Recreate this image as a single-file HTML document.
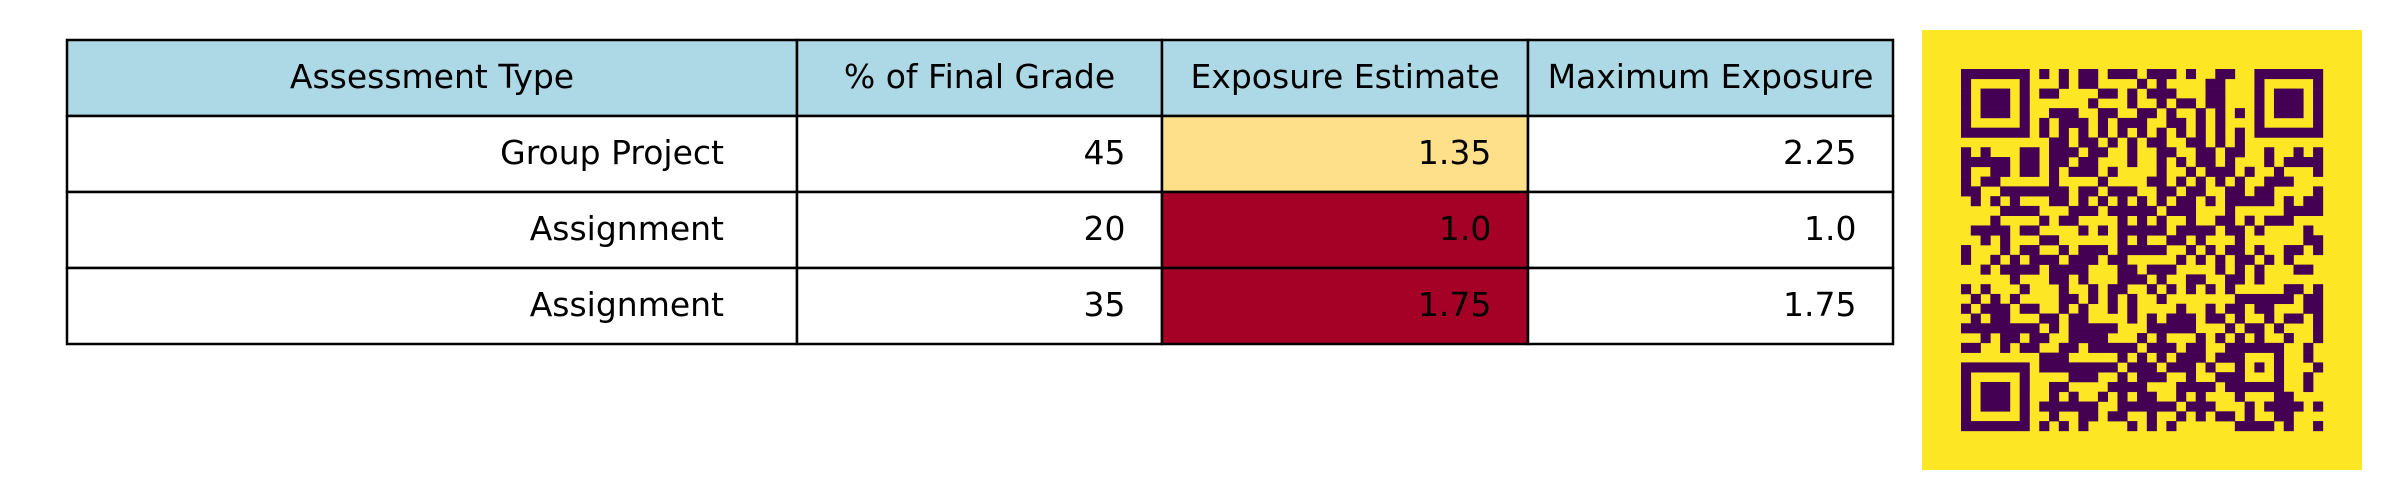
<!DOCTYPE html>
<html><head><meta charset="utf-8"><style>
html,body{margin:0;padding:0;background:#fff;width:2400px;height:500px;overflow:hidden}
svg text{font-family:"DejaVu Sans","Liberation Sans",sans-serif;font-size:33px;fill:#000}
</style></head><body>
<svg id="chart" width="2400" height="500" xmlns="http://www.w3.org/2000/svg"></svg>
<script>
const headers=["Assessment Type","% of Final Grade","Exposure Estimate","Maximum Exposure"];
const assessmentTypes=["Group Project","Assignment","Assignment"];
const finalGrade=["45","20","35"];
const exposureEstimate=["1.35","1.0","1.75"];
const maxExposure=["2.25","1.0","1.75"];
const exposureColors=["#fee08b","#a50026","#a50026"];
const qrRows=[
[[0,6],[8,8],[10,10],[12,13],[15,17],[19,21],[23,23],[26,27],[30,36]],
[[0,0],[6,6],[10,10],[12,13],[18,18],[20,20],[25,26],[30,30],[36,36]],
[[0,0],[2,4],[6,6],[8,9],[14,15],[17,17],[19,21],[25,26],[30,30],[32,34],[36,36]],
[[0,0],[2,4],[6,6],[13,13],[17,17],[20,20],[22,23],[25,26],[30,30],[32,34],[36,36]],
[[0,0],[2,4],[6,6],[9,11],[14,15],[18,19],[21,21],[24,24],[26,26],[28,28],[30,30],[32,34],[36,36]],
[[0,0],[6,6],[8,8],[10,12],[14,14],[16,18],[21,22],[24,24],[26,26],[30,30],[36,36]],
[[0,6],[8,8],[10,10],[12,12],[14,14],[16,16],[18,18],[20,20],[22,22],[24,24],[26,26],[28,28],[30,36]],
[[9,10],[12,13],[15,15],[17,17],[19,20],[23,24],[26,26],[28,28]],
[[0,0],[2,2],[6,7],[9,11],[13,14],[17,17],[20,21],[24,25],[27,28],[31,31],[34,34],[36,36]],
[[0,4],[6,7],[9,10],[12,13],[17,17],[20,20],[22,22],[24,25],[27,27],[31,31],[33,36]],
[[0,0],[3,4],[6,7],[9,9],[11,13],[15,15],[20,20],[23,23],[25,27],[29,29],[32,32],[36,36]],
[[0,0],[2,3],[9,9],[14,14],[19,20],[22,22],[24,24],[26,26],[28,28],[31,33]],
[[0,1],[4,10],[12,13],[15,17],[20,21],[23,24],[27,28],[30,31],[36,36]],
[[1,1],[3,3],[5,5],[9,10],[12,12],[14,14],[16,16],[18,18],[20,20],[22,23],[25,25],[27,31],[33,33],[35,36]],
[[4,7],[11,13],[15,19],[21,23],[27,27],[33,36]],
[[3,3],[8,8],[10,11],[16,16],[18,18],[20,20],[23,23],[26,27],[29,29],[31,33]],
[[1,4],[6,7],[12,12],[14,14],[16,20],[22,25],[27,28],[30,30],[35,35]],
[[2,2],[4,4],[8,9],[16,16],[18,18],[21,22],[24,24],[28,28],[35,36]],
[[0,0],[4,4],[6,7],[10,10],[12,14],[16,20],[23,23],[25,25],[27,28],[30,30],[33,34],[36,36]],
[[0,0],[3,3],[5,5],[7,9],[11,13],[15,16],[22,22],[24,24],[26,26],[28,29],[31,31],[33,33]],
[[2,2],[4,7],[9,12],[16,17],[19,21],[26,26],[28,28],[30,30],[34,35]],
[[5,5],[9,10],[12,12],[16,18],[20,20],[23,24],[27,28],[30,30]],
[[0,0],[2,2],[6,6],[10,10],[13,13],[15,16],[19,19],[21,21],[23,23],[25,25],[27,27],[33,34],[36,36]],
[[1,1],[3,3],[5,5],[10,11],[13,13],[15,15],[17,17],[20,20],[28,33],[35,36]],
[[0,0],[2,4],[6,7],[10,10],[12,12],[15,15],[17,17],[22,22],[25,25],[27,28],[30,31],[35,36]],
[[1,1],[3,4],[8,9],[11,12],[17,17],[19,19],[21,23],[25,26],[28,28],[31,31],[33,34],[36,36]],
[[0,7],[9,9],[11,15],[19,23],[27,27],[29,30],[32,32],[36,36]],
[[2,2],[4,5],[7,8],[11,14],[18,18],[20,20],[24,24],[26,26],[28,28],[30,30],[33,33],[36,36]],
[[0,1],[4,4],[6,7],[10,11],[13,17],[19,21],[23,24],[27,32],[35,35]],
[[8,10],[16,16],[18,18],[20,20],[22,24],[26,28],[32,32],[35,35]],
[[0,6],[8,15],[17,19],[21,23],[25,25],[28,28],[30,30],[32,32],[36,36]],
[[0,0],[6,6],[11,13],[16,16],[18,20],[23,23],[26,28],[32,32],[35,35]],
[[0,0],[2,4],[6,6],[9,10],[15,18],[22,25],[27,32],[35,35]],
[[0,0],[2,4],[6,6],[9,9],[11,11],[14,14],[16,16],[18,19],[22,22],[24,24],[28,28],[32,33]],
[[0,0],[2,4],[6,6],[8,13],[16,21],[23,25],[29,29],[31,34],[36,36]],
[[0,0],[6,6],[9,9],[12,13],[15,16],[19,19],[22,22],[24,24],[26,27],[29,29],[32,33]],
[[0,6],[8,8],[10,10],[12,12],[17,17],[19,19],[21,21],[28,31],[33,33],[36,36]]
];
const NS="http://www.w3.org/2000/svg";
const svg=document.getElementById('chart');
function mk(tag,attrs,parent){const e=document.createElementNS(NS,tag);for(const k in attrs)e.setAttribute(k,attrs[k]);(parent||svg).appendChild(e);return e;}
const colX=[67,797,1162,1528,1893];
const rowY=[40,116,192,268,344];
const nRows=assessmentTypes.length+1;
const table=mk('g',{});


const columns=[assessmentTypes,finalGrade,exposureEstimate,maxExposure];
for(let r=0;r<nRows;r++){
  for(let c=0;c<4;c++){
    const x=colX[c],w=colX[c+1]-colX[c],y=rowY[r],h=rowY[r+1]-rowY[r];
    let fill='#ffffff';
    if(r===0)fill='#add8e6';else if(c===2)fill=exposureColors[r-1];
    const cell=mk('rect',{x:x,y:y,width:w,height:h,fill:fill,stroke:'#000','stroke-width':2.5},table);
    
    
    const label=r===0?headers[c]:columns[c][r-1];
    const t=mk('text',{y:y+h/2+10},table);
    if(r===0){t.setAttribute('x',x+w/2);t.setAttribute('text-anchor','middle');}
    else{t.setAttribute('x',x+w-w*0.1);t.setAttribute('text-anchor','end');}
    t.textContent=label;
    
    
  }
}
const qr=mk('g',{});


const bg=mk('rect',{x:1922,y:30,width:440,height:440,fill:'#fde725'},qr);


const qx=1961,qy=69,ms=9.78;
qrRows.forEach((runs,i)=>{
  runs.forEach(([a,b])=>{
    const m=mk('rect',{x:qx+a*ms,y:qy+i*ms,width:(b-a+1)*ms+0.3,height:ms+0.3,fill:'#440154'},qr);
    
    
  });
});
</script>
</body></html>
